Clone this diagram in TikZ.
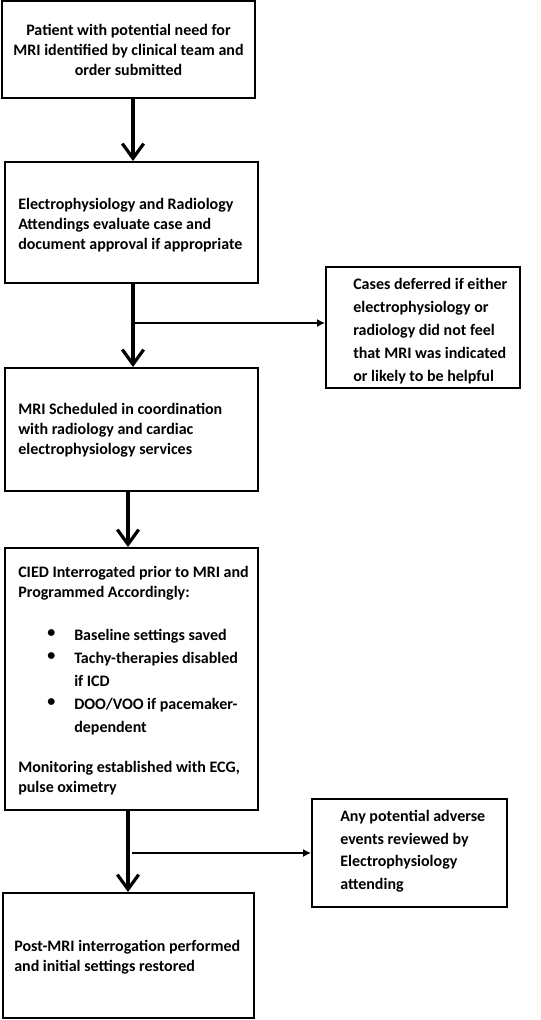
\documentclass[tikz,border=0pt]{standalone}
\usepackage{fontspec}
\setmainfont{Carlito}
\usetikzlibrary{arrows.meta,fit}
\begin{document}
\begin{tikzpicture}[x=0.75pt,y=-0.75pt,
  box/.style={draw,line width=1.5pt,inner sep=0pt},
  txt/.style={inner sep=0pt,align=left,font=\fontsize{12}{15}\selectfont\bfseries},
  ctxt/.style={inner sep=0pt,align=center,font=\fontsize{12}{15}\selectfont\bfseries},
  btxt/.style={inner sep=0pt,align=left,font=\fontsize{12}{17.25}\selectfont\bfseries},
  big/.style={line width=2.4pt,-{Straight Barb[length=11pt,width=16pt]}},
  thin/.style={line width=1pt,-{Latex[length=6pt,width=6pt]}}]
\useasboundingbox[fill=white] (0,0) rectangle (541,1020);
% boxes
\node[box,fit={(2,1) (255,98)}] (b1) {};
\node[box,fit={(5,162) (258,283)}] (b2) {};
\node[box,fit={(326,267) (520,388)}] (b3) {};
\node[box,fit={(5,368) (258,491)}] (b4) {};
\node[box,fit={(5,548) (258,810)}] (b5) {};
\node[box,fit={(312,799) (507,907)}] (b7) {};
\node[box,fit={(3,893) (254,1018)}] (b6) {};
% texts
\node[ctxt] (t1) at (b1.center) {Patient with potential need for\\MRI identified by clinical team and\\order submitted};
\node[txt,anchor=north west] (t2) at (18,198) {Electrophysiology and Radiology\\Attendings evaluate case and\\document approval if appropriate};
\begin{scope}
\clip (327,268) rectangle (519,383);
\node[txt,anchor=north west,font=\fontsize{12}{17.25}\selectfont\bfseries] (t3) at (353,278) {Cases deferred if either\\electrophysiology or\\radiology did not feel\\that MRI was indicated\\or likely to be helpful};
\end{scope}
\node[txt,anchor=north west] (t4) at (18,403) {MRI Scheduled in coordination\\with radiology and cardiac\\electrophysiology services};
\node[txt,anchor=north west] (t5a) at (18,566) {CIED Interrogated prior to MRI and\\Programmed Accordingly:};
\node[btxt,anchor=north west] (t5b) at (74,629) {Baseline settings saved\\Tachy-therapies disabled\\if ICD\\DOO/VOO if pacemaker-\\dependent};
\node[btxt,anchor=north west] (bl) at (47,629) {\textbullet\\\textbullet\\\strut\\\textbullet};
\node[txt,anchor=north west] (t5c) at (18,761) {Monitoring established with ECG,\\pulse oximetry};
\node[txt,anchor=north west,font=\fontsize{12}{16.9}\selectfont\bfseries] (t7) at (340,810) {Any potential adverse\\events reviewed by\\Electrophysiology\\attending};
\node[txt,anchor=north west] (t6) at (14,940) {Post-MRI interrogation performed\\and initial settings restored};
% connectors
\coordinate (xa) at (133,0);
\coordinate (xb) at (128,0);
\coordinate (j1) at (134,323);
\coordinate (j2) at (132,853);
\draw[big] (b1.south -| xa) -- (b2.north -| xa);
\draw[big] (b2.south -| xa) -- (b4.north -| xa);
\draw[big] (b4.south -| xb) -- (b5.north -| xb);
\draw[big] (b5.south -| xb) -- (b6.north -| xb);
\draw[thin] (j1) -- (j1 -| b3.west);
\draw[thin] (j2) -- (j2 -| b7.west);
\end{tikzpicture}
\end{document}
